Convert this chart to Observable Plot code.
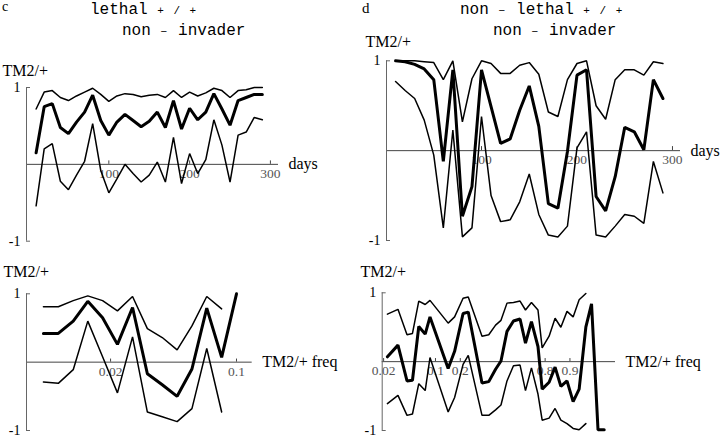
<!DOCTYPE html>
<html><head><meta charset="utf-8">
<script src="https://cdn.jsdelivr.net/npm/d3@7"></script>
<script src="https://cdn.jsdelivr.net/npm/@observablehq/plot@0.6"></script>
<style>
body{margin:0;background:#fff}
#fig{position:relative;width:720px;height:438px;overflow:hidden;background:#fff;font-family:"Liberation Serif",serif}
.abs{position:absolute;white-space:pre;line-height:18px}
.ttl{font-family:"Liberation Mono",monospace;font-size:16px;color:#000}
.sm{font-size:11px;letter-spacing:1.5px}
.let{font-family:"Liberation Serif",serif;color:#000}
</style></head><body><div id="fig">
<div class="abs let" style="left:2px;top:0px;font-size:14px;line-height:14px">c</div>
<div class="abs let" style="left:362px;top:1px;font-size:15px;line-height:15px">d</div>
<div class="abs ttl" style="left:90px;top:1px">lethal <span class="sm">+ / +</span></div>
<div class="abs ttl" style="left:122px;top:22px">non <span class="sm">−</span> invader</div>
<div class="abs ttl" style="left:460px;top:1px">non <span class="sm">−</span> lethal <span class="sm">+ / +</span></div>
<div class="abs ttl" style="left:493px;top:22px">non <span class="sm">−</span> invader</div>
</div>
<script>
// ---- data ----
const days = [10,20,30,40,50,60,70,80,90,100,110,120,130,140,150,160,170,180,190,200,210,220,230,240,250,260,270,280,290];
const dayTicks = [100, 200, 300];
const yTicks = [-1, 1];

// panel c, top (lethal, vs days)
const cTopMean  = [0.15,0.75,0.79,0.48,0.40,0.55,0.68,0.90,0.57,0.38,0.55,0.65,0.57,0.49,0.56,0.68,0.48,0.83,0.46,0.73,0.58,0.68,0.92,0.72,0.51,0.83,0.87,0.91,0.91];
const cTopUpper = [0.72,0.94,0.96,0.87,0.83,0.89,0.94,0.99,0.91,0.82,0.89,0.92,0.91,0.88,0.90,0.91,0.87,0.96,0.87,0.94,0.89,0.93,0.99,0.96,0.87,0.96,0.97,1.0,1.0];
const cTopLower = [-0.54,0.20,0.27,-0.22,-0.33,-0.14,0.04,0.53,-0.08,-0.37,-0.19,0.0,-0.12,-0.23,-0.14,0.03,-0.23,0.35,-0.25,0.14,-0.12,0.06,0.58,0.25,-0.23,0.38,0.42,0.61,0.58];

// panel d, top (non-lethal, vs days)
const dTopMean  = [1.0,0.99,0.96,0.91,0.79,-0.12,0.90,-0.73,-0.40,0.90,0.49,0.08,0.13,0.45,0.72,0.27,-0.59,-0.64,-0.01,0.84,0.90,-0.51,-0.67,-0.29,0.26,0.21,0.01,0.79,0.58];
const dTopUpper = [1.0,1.0,1.0,0.99,0.98,0.79,1.0,0.32,0.80,1.0,0.97,0.86,0.86,0.95,0.98,0.85,0.43,0.38,0.79,0.97,1.0,0.50,0.35,0.79,0.90,0.90,0.84,0.99,0.97];
const dTopLower = [0.77,0.67,0.58,0.34,-0.05,-0.86,0.23,-0.96,-0.86,0.38,-0.50,-0.79,-0.77,-0.57,-0.26,-0.71,-0.94,-0.96,-0.84,0.03,0.21,-0.94,-0.96,-0.84,-0.71,-0.73,-0.81,-0.12,-0.47];

// panel c, bottom (lethal, vs TM2/+ frequency)
const cFreq      = [0.0082,0.0100,0.0122,0.0148,0.0180,0.0219,0.0267,0.0324,0.0393,0.0476,0.0575,0.0693,0.0834,0.1];
const cFreqTicks = [0.02, 0.1];
const cBotMean   = [0.42,0.42,0.60,0.89,0.65,0.26,0.80,-0.17,-0.33,-0.50,-0.10,0.79,0.07,1.0];
const cBotUpper  = [0.81,0.81,0.90,0.97,0.90,0.75,0.96,0.49,0.36,0.18,0.53,0.96,0.78,null];
const cBotLower  = [-0.29,-0.31,-0.11,0.60,0.08,-0.45,0.37,-0.73,-0.80,-0.87,-0.68,0.20,-0.73,null];

// panel d, bottom (non-lethal, vs TM2/+ frequency)
const dFreq      = [0.0226,0.0316,0.0420,0.0498,0.0605,0.0736,0.0850,0.144,0.172,0.215,0.245,0.337,0.388,0.442,0.486,0.535,0.587,0.638,0.678,0.719,0.760,0.784,0.820,0.847,0.870,0.891,0.909,0.924,0.938,0.948,0.9575,0.965];
const dFreqTicks = [0.02, 0.1, 0.2, 0.8, 0.9];
const dBotMean   = [0.07,0.24,-0.28,-0.27,0.51,0.40,0.65,-0.10,0.15,0.70,0.72,-0.31,-0.29,-0.11,0.01,0.44,0.59,0.62,0.27,0.58,0.22,-0.40,-0.30,-0.08,-0.36,-0.28,-0.58,-0.40,0.50,0.84,-0.99,-0.99];
const dBotUpper  = [0.69,0.76,0.39,0.41,0.88,0.83,0.89,0.56,0.65,0.92,0.94,0.37,0.39,0.53,0.60,0.85,0.86,0.88,0.75,0.86,0.75,0.20,0.37,0.63,0.50,0.73,0.65,0.90,0.99,null,null,null];
const dBotLower  = [-0.61,-0.49,-0.78,-0.76,-0.32,-0.42,0.06,-0.73,-0.52,-0.04,0.09,-0.78,-0.78,-0.70,-0.63,-0.28,-0.06,-0.05,-0.42,-0.09,-0.47,-0.85,-0.82,-0.68,-0.85,-0.90,-0.97,-0.99,-0.90,null,null,null];

// ---- drawing ----
const logit = p => Math.log(p / (1 - p));
const rowsOf = (xs, mean, upper, lower) => xs.map((x, i) => ({x, mean: mean[i], upper: upper[i], lower: lower[i]}));

function panel({left, top, width, height, mT, mR, mB, mL, xDomain, xOf, ticks, xLabel, rows, lblDx, lblDy}) {
  const X = d => xOf(d.x);
  const svg = Plot.plot({
    width, height, marginTop: mT, marginRight: mR, marginBottom: mB, marginLeft: mL,
    x: {domain: xDomain, axis: null},
    y: {domain: [-1, 1]},
    style: {background: "transparent", overflow: "visible", fontFamily: "Liberation Serif, serif", color: "#000"},
    marks: [
      Plot.ruleY([0], {stroke: "#444", strokeWidth: 1}),
      Plot.ruleX([xDomain[0]], {y1: -1, y2: 1, stroke: "#666", strokeWidth: 1}),
      Plot.axisY(yTicks, {anchor: "left", tickSize: -4, tickPadding: 10, tickFormat: d => String(d), fontSize: 14, stroke: "#666", fill: "#000"}),
      Plot.ruleX(ticks, {x: xOf, y1: 0, y2: 0.045, stroke: "#444"}),
      Plot.text(ticks, {x: xOf, y: 0, text: d => String(d), lineAnchor: "top", dy: 4, fontSize: 13.5, fill: "#555"}),
      Plot.text([xLabel], {x: xDomain[1], y: 0, dx: 10, textAnchor: "start", fontSize: 16, fill: "#000"}),
      Plot.text(["TM2/+"], {x: xDomain[0], y: 1, dx: lblDx, dy: lblDy, textAnchor: "start", lineAnchor: "bottom", fontSize: 16, fill: "#000"}),
      Plot.line(rows, {x: X, y: "upper", stroke: "#000", strokeWidth: 1.5, strokeLinejoin: "miter"}),
      Plot.line(rows, {x: X, y: "lower", stroke: "#000", strokeWidth: 1.5, strokeLinejoin: "miter"}),
      Plot.line(rows, {x: X, y: "mean", stroke: "#000", strokeWidth: 3, strokeLinejoin: "miter"})
    ]
  });
  svg.style.position = "absolute";
  svg.style.left = left + "px";
  svg.style.top = top + "px";
  document.getElementById("fig").appendChild(svg);
}

panel({left: 0, top: 40, width: 360, height: 215, mT: 47, mR: 82, mB: 14.3, mL: 26,
  xDomain: [-1.9, 310], xOf: d => d, ticks: dayTicks, xLabel: "days",
  rows: rowsOf(days, cTopMean, cTopUpper, cTopLower), lblDx: -24, lblDy: -12});

panel({left: 360, top: 20, width: 360, height: 235, mT: 40.3, mR: 40, mB: 15, mL: 26,
  xDomain: [0.5, 308.4], xOf: d => d, ticks: dayTicks, xLabel: "days",
  rows: rowsOf(days, dTopMean, dTopUpper, dTopLower), lblDx: -21, lblDy: -13.6});

panel({left: 0, top: 255, width: 360, height: 183, mT: 38.3, mR: 108.3, mB: 8, mL: 26,
  xDomain: [-5.023, -1.986], xOf: logit, ticks: cFreqTicks, xLabel: "TM2/+ freq",
  rows: rowsOf(cFreq, cBotMean, cBotUpper, cBotLower), lblDx: -23, lblDy: -16.6});

panel({left: 355, top: 255, width: 365, height: 183, mT: 37.3, mR: 105, mB: 8, mL: 26.7,
  xDomain: [-3.938, 3.686], xOf: logit, ticks: dFreqTicks, xLabel: "TM2/+ freq",
  rows: rowsOf(dFreq, dBotMean, dBotUpper, dBotLower), lblDx: -21.7, lblDy: -15.6});
</script></body></html>
